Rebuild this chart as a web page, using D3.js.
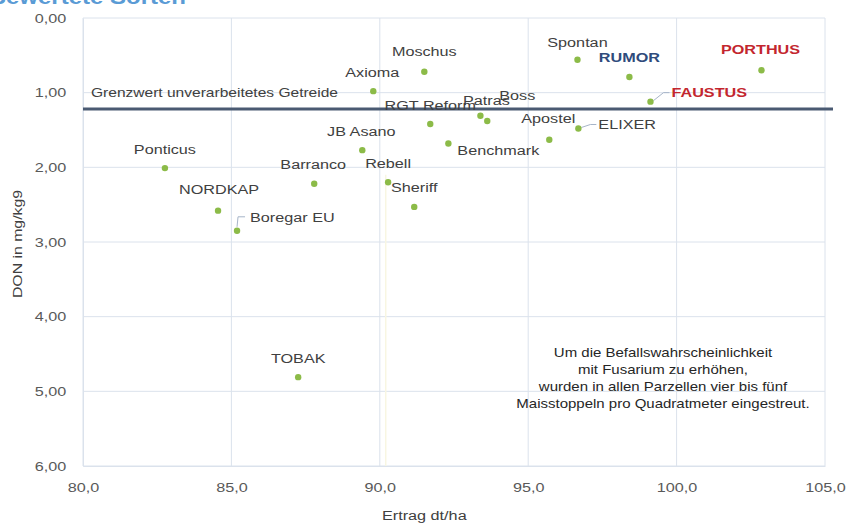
<!DOCTYPE html>
<html><head><meta charset="utf-8">
<script src="https://cdn.jsdelivr.net/npm/d3@7/dist/d3.min.js"></script>
<style>
html,body{margin:0;padding:0;background:#fff;}
svg{display:block;font-family:"Liberation Sans",Arial,sans-serif;}
</style></head>
<body>
<svg id="chart" width="849" height="525"></svg>
<script>
// ---- data ----
const varieties = ["Ponticus","NORDKAP","Boregar EU","Barranco","TOBAK","JB Asano","Rebell","Sheriff","Axioma","Moschus","RGT Reform","Patras","Boss","Benchmark","Apostel","ELIXER","Spontan","RUMOR","FAUSTUS","PORTHUS"];
const ertrag = [82.76,84.55,85.19,87.79,87.25,89.41,90.28,91.16,89.78,91.50,91.70,93.39,93.62,92.31,95.71,96.69,96.66,98.41,99.12,102.86];
const don    = [2.01,2.58,2.85,2.22,4.81,1.77,2.20,2.53,0.98,0.72,1.42,1.31,1.38,1.68,1.63,1.48,0.56,0.79,1.12,0.70];
const xTicks = [80,85,90,95,100,105];
const yTicks = [0,1,2,3,4,5,6];
const grenzwert = 1.22;
const grenzwertLabel = "Grenzwert unverarbeitetes Getreide";
const note = ["Um die Befallswahrscheinlichkeit","mit Fusarium zu erhöhen,","wurden in allen Parzellen vier bis fünf","Maisstoppeln pro Quadratmeter eingestreut."];

// ---- layout (label placement, not data) ----
const labelPos = {
  "Ponticus":[0,-19,"middle"], "NORDKAP":[1,-21,"middle"], "Boregar EU":[13,-14,"start"],
  "Barranco":[-1,-19,"middle"], "TOBAK":[0,-19,"middle"], "JB Asano":[-1,-19,"middle"],
  "Rebell":[0,-19,"middle"], "Sheriff":[0,-20,"middle"], "Axioma":[-1,-19,"middle"],
  "Moschus":[0,-20,"middle"], "RGT Reform":[0,-19,"middle"], "Patras":[6,-16,"middle"],
  "Boss":[30,-26,"middle"], "Benchmark":[9,7,"start"], "Apostel":[-1,-21,"middle"],
  "ELIXER":[20,-4,"start"], "Spontan":[0,-18,"middle"], "RUMOR":[0,-20,"middle"],
  "FAUSTUS":[21,-9,"start"], "PORTHUS":[-1,-21,"middle"]
};
const labelStyle = {
  "RUMOR":{fill:"#2f4b7c",weight:"bold"},
  "FAUSTUS":{fill:"#c3262e",weight:"bold"},
  "PORTHUS":{fill:"#c3262e",weight:"bold"}
};
const SX = 1.2; // horizontal stretch of the reference typography

const svg = d3.select("#chart");
const m = {left:83, right:825, top:18, bottom:466};
const x = d3.scaleLinear().domain([80,105]).range([m.left,m.right]);
const y = d3.scaleLinear().domain([0,6]).range([m.top,m.bottom]);

function stretchedText(parent, tx, ty, str){
  return parent.append("text").attr("transform",`translate(${tx},${ty}) scale(${SX},1)`).text(str);
}

// title (cut off at top, as in the reference)
stretchedText(svg,186,4,"Bewertete Sorten").attr("text-anchor","end")
  .attr("font-size",20).attr("font-weight","bold").attr("fill","#5a9bd5");

const grid = "#dbe2ec";
// grid
svg.append("g").selectAll("line").data(yTicks).join("line")
  .attr("x1",m.left).attr("x2",m.right).attr("y1",d=>y(d)).attr("y2",d=>y(d))
  .attr("stroke",grid).attr("stroke-width",1);
svg.append("g").selectAll("line").data(xTicks).join("line")
  .attr("y1",m.top).attr("y2",m.bottom).attr("x1",d=>x(d)).attr("x2",d=>x(d))
  .attr("stroke",grid).attr("stroke-width",1);
// faint vertical line
svg.append("line").attr("x1",x(90.2)).attr("x2",x(90.2)).attr("y1",y(2.1)).attr("y2",m.bottom)
  .attr("stroke","#f8f6e2").attr("stroke-width",1.5);

// axes
const yAxis = d3.axisLeft(y).tickValues(yTicks).tickSize(0).tickPadding(14)
  .tickFormat(d=>d3.format(".2f")(d).replace(".",","));
svg.append("g").attr("transform",`translate(${m.left},0)`).call(yAxis)
  .call(g=>g.select(".domain").attr("stroke",grid))
  .call(g=>g.selectAll("text").attr("font-size",13.5).attr("fill","#595959")
    .attr("font-family","Liberation Sans, Arial").attr("transform",`scale(${SX},1)`));
const xAxis = d3.axisBottom(x).tickValues(xTicks).tickSize(0).tickPadding(16)
  .tickFormat(d=>d3.format(".1f")(d).replace(".",","));
svg.append("g").attr("transform",`translate(0,${m.bottom})`).call(xAxis)
  .call(g=>g.select(".domain").attr("stroke",grid))
  .call(g=>g.selectAll("text").attr("font-size",13.5).attr("fill","#595959")
    .attr("font-family","Liberation Sans, Arial").attr("transform",`scale(${SX},1)`));

// axis titles
svg.append("text").attr("transform",`translate(22,244) rotate(-90) scale(${SX},1)`).attr("text-anchor","middle")
  .attr("font-size",13.2).attr("fill","#404040").text("DON in mg/kg9");
stretchedText(svg,x(91.5),520,"Ertrag dt/ha").attr("text-anchor","middle")
  .attr("font-size",13.5).attr("fill","#404040");

// threshold line
svg.append("line").attr("x1",m.left).attr("x2",833).attr("y1",y(grenzwert)).attr("y2",y(grenzwert))
  .attr("stroke","#4a5a72").attr("stroke-width",3);
svg.append("text").attr("x",91).attr("y",y(grenzwert)-12).attr("font-size",13)
  .attr("fill","#404040").attr("textLength",247).attr("lengthAdjust","spacingAndGlyphs").text(grenzwertLabel);

// points
const pts = varieties.map((v,i)=>({name:v,x:ertrag[i],y:don[i]}));

// leader lines
const leaders = {"Boregar EU":1,"ELIXER":1,"FAUSTUS":1};
pts.filter(p=>leaders[p.name]).forEach(p=>{
  const px=x(p.x), py=y(p.y), o=labelPos[p.name];
  let path;
  if(p.name==="Boregar EU") path=`M${px},${py-4}L${px+1},${py+o[1]}L${px+o[0]-5},${py+o[1]}`;
  else path=`M${px+3},${py-1}L${px+o[0]-8},${py+o[1]}L${px+o[0]-2},${py+o[1]}`;
  svg.append("path").attr("d",path).attr("fill","none").attr("stroke","#a6b4c8").attr("stroke-width",1);
});

svg.append("g").selectAll("circle").data(pts).join("circle")
  .attr("cx",d=>x(d.x)).attr("cy",d=>y(d.y)).attr("r",3.2).attr("fill","#8cbb48");

svg.append("g").selectAll("text").data(pts).join("text")
  .attr("transform",d=>`translate(${x(d.x)+labelPos[d.name][0]},${y(d.y)+labelPos[d.name][1]}) scale(${SX},1)`)
  .attr("dy","0.35em").attr("text-anchor",d=>labelPos[d.name][2])
  .attr("font-size",13.5)
  .attr("font-weight",d=>labelStyle[d.name]?labelStyle[d.name].weight:"normal")
  .attr("fill",d=>labelStyle[d.name]?labelStyle[d.name].fill:"#404040")
  .text(d=>d.name);

// note
svg.append("g").selectAll("text").data(note).join("text")
  .attr("transform",(d,i)=>`translate(663,${357+i*17}) scale(${SX},1)`).attr("text-anchor","middle")
  .attr("font-size",12.5).attr("fill","#262626").text(d=>d);
</script>
</body></html>
